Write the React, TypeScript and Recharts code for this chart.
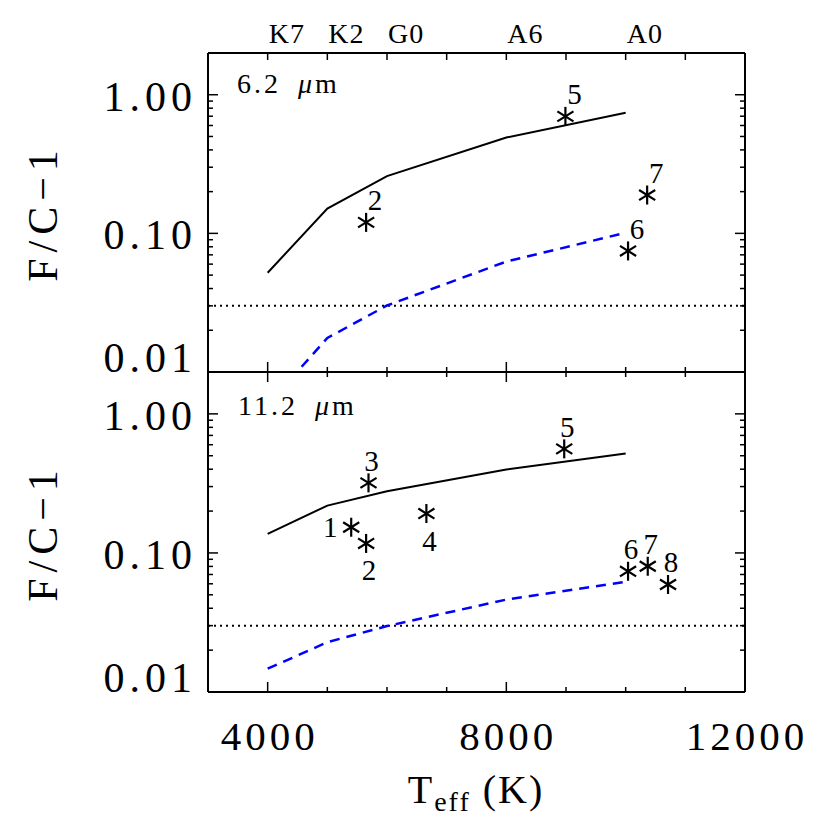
import React from 'react';
import { ComposedChart, Line, Scatter, XAxis, YAxis, ReferenceLine } from 'recharts';

const FONT = '"Liberation Serif", "DejaVu Serif", serif';

// ---- model curves (Teff in K, F/C - 1) ----
const teffModel = [4000, 5000, 6000, 8000, 10000];
const solid62 = [0.052, 0.151, 0.259, 0.491, 0.742];
const dashed62 = [0.0058, 0.0176, 0.0302, 0.0626, 0.101];
const solid112 = [0.137, 0.219, 0.278, 0.398, 0.518];
const dashed112 = [0.0147, 0.0228, 0.0298, 0.0462, 0.062];
const detectionLimit = 0.03;

// ---- observed stars ----
const stars62Id = ['2', '5', '6', '7'];
const stars62Teff = [5650, 8990, 10040, 10360];
const stars62Val = [0.12, 0.698, 0.0747, 0.189];
const stars62Pos = ['upright', 'upright', 'upright', 'upright'];

const stars112Id = ['1', '2', '3', '4', '5', '6', '7', '8'];
const stars112Teff = [5400, 5650, 5690, 6660, 8970, 10040, 10370, 10710];
const stars112Val = [0.153, 0.117, 0.319, 0.192, 0.56, 0.0738, 0.0802, 0.0593];
const stars112Pos = ['left', 'down', 'up', 'down', 'up', 'up', 'up', 'up'];

// ---- ticks ----
const xDomain = [3000, 12000];
const xTicks = [4000, 5000, 6000, 7000, 8000, 9000, 10000, 11000, 12000];
const xMajor = [4000, 8000, 12000];
const spectralTicks = [4000, 5000, 6000, 8000, 10000];
const spectralLabels = ['K7', 'K2', 'G0', 'A6', 'A0'];
const yDomain = [0.01, 2];
const yTicks = [0.01, 0.02, 0.03, 0.04, 0.05, 0.06, 0.07, 0.08, 0.09, 0.1, 0.2, 0.3, 0.4, 0.5, 0.6, 0.7, 0.8, 0.9, 1];
const yMajor = [0.01, 0.1, 1];
const yMajorLabels = ['0.01', '0.10', '1.00'];

const LABEL_OFFSET: Record<string, [number, number]> = {
  upright: [9, -22],
  up: [3, -22],
  down: [3, 27],
  left: [-21, 0],
};

const W = 830;
const PLOT_LEFT = 208;
const PLOT_RIGHT = 745;

const buildLine = (vals: number[]) => teffModel.map((t, i) => ({ teff: t, v: vals[i] }));
const buildStars = (ids: string[], teff: number[], vals: number[], pos: string[]) =>
  ids.map((id, i) => ({ teff: teff[i], v: vals[i], id, pos: pos[i] }));

const Asterisk = (props: any) => {
  const { cx, cy, payload } = props;
  if (cx == null || cy == null) return <g />;
  const r = 9.5;
  const ang = (32 * Math.PI) / 180;
  const dx = r * Math.cos(ang);
  const dy = r * Math.sin(ang);
  const [ox, oy] = LABEL_OFFSET[payload.pos] || [0, -22];
  return (
    <g>
      <line x1={cx} y1={cy - r} x2={cx} y2={cy + r} stroke="#000" strokeWidth={2.2} />
      <line x1={cx - dx} y1={cy - dy} x2={cx + dx} y2={cy + dy} stroke="#000" strokeWidth={2.2} />
      <line x1={cx - dx} y1={cy + dy} x2={cx + dx} y2={cy - dy} stroke="#000" strokeWidth={2.2} />
      <text
        x={cx + ox}
        y={cy + oy + 10}
        textAnchor="middle"
        fontFamily={FONT}
        fontSize={29}
        fill="#000"
      >
        {payload.id}
      </text>
    </g>
  );
};

const makeBottomTick = (showLabels: boolean) => (props: any) => {
  const { x, y, payload } = props;
  const v = payload.value;
  const major = xMajor.indexOf(v) >= 0;
  return (
    <g>
      <line x1={x} x2={x} y1={y} y2={y - (major ? 10 : 5)} stroke="#000" strokeWidth={1.5} />
      {showLabels && major ? (
        <text x={x + 2} y={y + 58} textAnchor="middle" fontFamily={FONT} fontSize={41} letterSpacing={4} fill="#000">
          {String(v)}
        </text>
      ) : null}
    </g>
  );
};

const makeTopTick = (spectral: boolean) => (props: any) => {
  const { x, y, payload } = props;
  const v = payload.value;
  const major = xMajor.indexOf(v) >= 0;
  const idx = spectralTicks.indexOf(v);
  const len = spectral ? 7 : major ? 10 : 5;
  return (
    <g>
      <line x1={x} x2={x} y1={y} y2={y + len} stroke="#000" strokeWidth={1.5} />
      {spectral && idx >= 0 ? (
        <text x={x + 1} y={y - 10} textAnchor="start" fontFamily={FONT} fontSize={28} letterSpacing={1} fill="#000">
          {spectralLabels[idx]}
        </text>
      ) : null}
    </g>
  );
};

const leftTick = (props: any) => {
  const { x, y, payload } = props;
  const v = payload.value;
  const mi = yMajor.indexOf(v);
  const major = mi >= 0;
  return (
    <g>
      <line x1={x} x2={x + (major ? 10 : 5)} y1={y} y2={y} stroke="#000" strokeWidth={1.5} />
      {major ? (
        <text
          x={x - 11}
          y={mi === 0 ? y : y + 16}
          textAnchor="end"
          fontFamily={FONT}
          fontSize={42}
          letterSpacing={5}
          fill="#000"
        >
          {yMajorLabels[mi]}
        </text>
      ) : null}
    </g>
  );
};

const rightTick = (props: any) => {
  const { x, y, payload } = props;
  const major = yMajor.indexOf(payload.value) >= 0;
  return (
    <g>
      <line x1={x} x2={x - (major ? 10 : 5)} y1={y} y2={y} stroke="#000" strokeWidth={1.5} />
    </g>
  );
};

type PanelProps = {
  top: number;
  bottom: number;
  solid: number[];
  dashed: number[];
  stars: any[];
  spectralTop: boolean;
  bottomLabels: boolean;
};

const Panel = ({ top, bottom, solid, dashed, stars, spectralTop, bottomLabels }: PanelProps) => {
  const axisLine = { stroke: '#000', strokeWidth: 2 };
  return (
    <div style={{ position: 'absolute', left: 0, top: 0 }}>
      <ComposedChart width={W} height={W} margin={{ top: 0, right: 0, bottom: 0, left: 0 }}>
        <XAxis
          xAxisId="b"
          orientation="bottom"
          dataKey="teff"
          type="number"
          domain={xDomain}
          allowDataOverflow
          ticks={xTicks}
          interval={0}
          height={W - bottom}
          tickSize={0}
          tickMargin={0}
          tickLine={false}
          axisLine={axisLine}
          tick={makeBottomTick(bottomLabels)}
        />
        <XAxis
          xAxisId="t"
          orientation="top"
          dataKey="teff"
          type="number"
          domain={xDomain}
          allowDataOverflow
          ticks={xTicks}
          interval={0}
          height={top}
          tickSize={0}
          tickMargin={0}
          tickLine={false}
          axisLine={axisLine}
          tick={makeTopTick(spectralTop)}
        />
        <YAxis
          yAxisId="l"
          orientation="left"
          dataKey="v"
          type="number"
          scale="log"
          domain={yDomain}
          allowDataOverflow
          ticks={yTicks}
          interval={0}
          width={PLOT_LEFT}
          tickSize={0}
          tickMargin={0}
          tickLine={false}
          axisLine={axisLine}
          tick={leftTick}
        />
        <YAxis
          yAxisId="r"
          orientation="right"
          dataKey="v"
          type="number"
          scale="log"
          domain={yDomain}
          allowDataOverflow
          ticks={yTicks}
          interval={0}
          width={W - PLOT_RIGHT}
          tickSize={0}
          tickMargin={0}
          tickLine={false}
          axisLine={axisLine}
          tick={rightTick}
        />
        <ReferenceLine
          xAxisId="b"
          yAxisId="l"
          y={detectionLimit}
          stroke="#000"
          strokeWidth={2}
          strokeDasharray="2 4"
        />
        <Line
          xAxisId="b"
          yAxisId="l"
          data={buildLine(solid)}
          dataKey="v"
          stroke="#000"
          strokeWidth={2}
          dot={false}
          isAnimationActive={false}
          type="linear"
        />
        <Line
          xAxisId="b"
          yAxisId="l"
          data={buildLine(dashed)}
          dataKey="v"
          stroke="#0000ff"
          strokeWidth={2.5}
          strokeDasharray="10 7"
          dot={false}
          isAnimationActive={false}
          type="linear"
        />
        <Scatter
          xAxisId="b"
          yAxisId="l"
          data={stars}
          dataKey="v"
          shape={Asterisk}
          isAnimationActive={false}
        />
      </ComposedChart>
    </div>
  );
};

const Titles = () => (
  <svg
    width={W}
    height={W}
    style={{ position: 'absolute', left: 0, top: 0, pointerEvents: 'none' }}
    fontFamily={FONT}
  >
    <text x={237} y={93} fontSize={28} letterSpacing={3} fill="#000">
      6.2
      <tspan x={298} fontStyle="italic">μ</tspan>
      <tspan>m</tspan>
    </text>
    <text x={238} y={415} fontSize={28} letterSpacing={3} fill="#000">
      11.2
      <tspan x={315} fontStyle="italic">μ</tspan>
      <tspan>m</tspan>
    </text>
    <text
      x={57}
      y={213}
      transform="rotate(-90 57 213)"
      textAnchor="middle"
      fontSize={42}
      letterSpacing={6}
      fill="#000"
    >
      F/C−1
    </text>
    <text
      x={57}
      y={533}
      transform="rotate(-90 57 533)"
      textAnchor="middle"
      fontSize={42}
      letterSpacing={6}
      fill="#000"
    >
      F/C−1
    </text>
    <text x={476} y={803} textAnchor="middle" fontSize={40} letterSpacing={2} fill="#000">
      T
      <tspan fontSize={28} dy={8}>eff</tspan>
      <tspan dy={-8}> (K)</tspan>
    </text>
  </svg>
);

export default function App() {
  return (
    <div style={{ position: 'absolute', left: 0, top: 0, width: W, height: W, background: '#fff' }}>
      <Panel
        top={53}
        bottom={372}
        solid={solid62}
        dashed={dashed62}
        stars={buildStars(stars62Id, stars62Teff, stars62Val, stars62Pos)}
        spectralTop={true}
        bottomLabels={false}
      />
      <Panel
        top={372}
        bottom={692}
        solid={solid112}
        dashed={dashed112}
        stars={buildStars(stars112Id, stars112Teff, stars112Val, stars112Pos)}
        spectralTop={false}
        bottomLabels={true}
      />
      <Titles />
    </div>
  );
}
